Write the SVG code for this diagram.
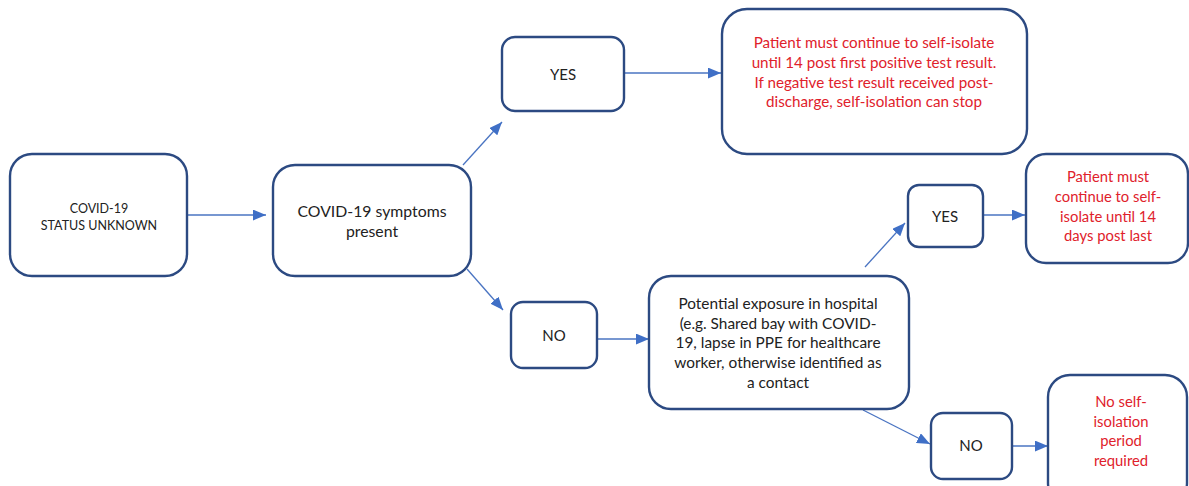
<svg xmlns="http://www.w3.org/2000/svg" width="1189" height="486" viewBox="0 0 1189 486">
<defs>
<marker id="arr" viewBox="0 0 12 10" refX="12" refY="5" markerWidth="13" markerHeight="11" markerUnits="userSpaceOnUse" orient="auto">
<path d="M0,0 L12,5 L0,10 Z" fill="#3f6fc6"/>
</marker>
<style>
.box{fill:#fff;stroke:#2c4a82;stroke-width:2.4}
.conn{stroke:#4a74c2;stroke-width:1.3;fill:none}
.t{font-family:Lato,"Liberation Sans",sans-serif;fill:#222;text-anchor:middle}
.r{font-family:Lato,"Liberation Sans",sans-serif;fill:#e0212b;text-anchor:middle}
</style>
</defs>
<rect width="1189" height="486" fill="#fff"/>
<g id="connectors">
<line class="conn" x1="187" y1="215" x2="266" y2="215" marker-end="url(#arr)"/>
<line class="conn" x1="463" y1="165" x2="502" y2="122" marker-end="url(#arr)"/>
<line class="conn" x1="624" y1="73" x2="721" y2="73" marker-end="url(#arr)"/>
<line class="conn" x1="467" y1="269" x2="503" y2="310" marker-end="url(#arr)"/>
<line class="conn" x1="597" y1="339" x2="649" y2="339" marker-end="url(#arr)"/>
<line class="conn" x1="865" y1="267" x2="905" y2="223" marker-end="url(#arr)"/>
<line class="conn" x1="983" y1="215" x2="1025" y2="215" marker-end="url(#arr)"/>
<line class="conn" x1="863" y1="410" x2="930" y2="444" marker-end="url(#arr)"/>
<line class="conn" x1="1012" y1="446" x2="1048" y2="446" marker-end="url(#arr)"/>
</g>
<g id="status">
<rect class="box" x="10" y="154" width="177" height="122" rx="22"/>
<text class="t" font-size="12.5" x="99" y="213">COVID-19</text>
<text class="t" font-size="12.5" x="99" y="230">STATUS UNKNOWN</text>
</g>
<g id="symptoms">
<rect class="box" x="273" y="165" width="198" height="111" rx="22"/>
<text class="t" font-size="15.8" x="372" y="217">COVID-19 symptoms</text>
<text class="t" font-size="15.8" x="372" y="237">present</text>
</g>
<g id="yes1">
<rect class="box" x="502" y="37" width="122" height="74" rx="13"/>
<text class="t" font-size="15" x="563" y="80">YES</text>
</g>
<g id="outcome1">
<rect class="box" x="722" y="9" width="305" height="145" rx="25"/>
<text class="r" font-size="15.2" x="874" y="48">Patient must continue to self-isolate</text>
<text class="r" font-size="15.2" x="874" y="68">until 14 post first positive test result.</text>
<text class="r" font-size="15.2" x="874" y="88">If negative test result received post-</text>
<text class="r" font-size="15.2" x="874" y="107">discharge, self-isolation can stop</text>
</g>
<g id="no1">
<rect class="box" x="511" y="302" width="86" height="66" rx="12"/>
<text class="t" font-size="15" x="554" y="341">NO</text>
</g>
<g id="exposure">
<rect class="box" x="649" y="276" width="260" height="133" rx="22"/>
<text class="t" font-size="15.4" x="778" y="309">Potential exposure in hospital</text>
<text class="t" font-size="15.4" x="778" y="329">(e.g. Shared bay with COVID-</text>
<text class="t" font-size="15.4" x="778" y="348">19, lapse in PPE for healthcare</text>
<text class="t" font-size="15.4" x="778" y="368">worker, otherwise identified as</text>
<text class="t" font-size="15.4" x="778" y="388">a contact</text>
</g>
<g id="yes2">
<rect class="box" x="908" y="185" width="75" height="62" rx="11"/>
<text class="t" font-size="15" x="945" y="222">YES</text>
</g>
<g id="outcome2">
<rect class="box" x="1026" y="154" width="162" height="109" rx="20"/>
<text class="r" font-size="14.8" x="1108" y="182">Patient must</text>
<text class="r" font-size="14.8" x="1108" y="202">continue to self-</text>
<text class="r" font-size="14.8" x="1108" y="222">isolate until 14</text>
<text class="r" font-size="14.8" x="1108" y="241">days post last</text>
</g>
<g id="no2">
<rect class="box" x="931" y="413" width="81" height="66" rx="12"/>
<text class="t" font-size="15" x="971" y="451">NO</text>
</g>
<g id="outcome3">
<rect class="box" x="1048" y="375" width="139" height="130" rx="22"/>
<text class="r" font-size="14.8" x="1121" y="407">No self-</text>
<text class="r" font-size="14.8" x="1121" y="427">isolation</text>
<text class="r" font-size="14.8" x="1121" y="446">period</text>
<text class="r" font-size="14.8" x="1121" y="466">required</text>
</g>
</svg>
